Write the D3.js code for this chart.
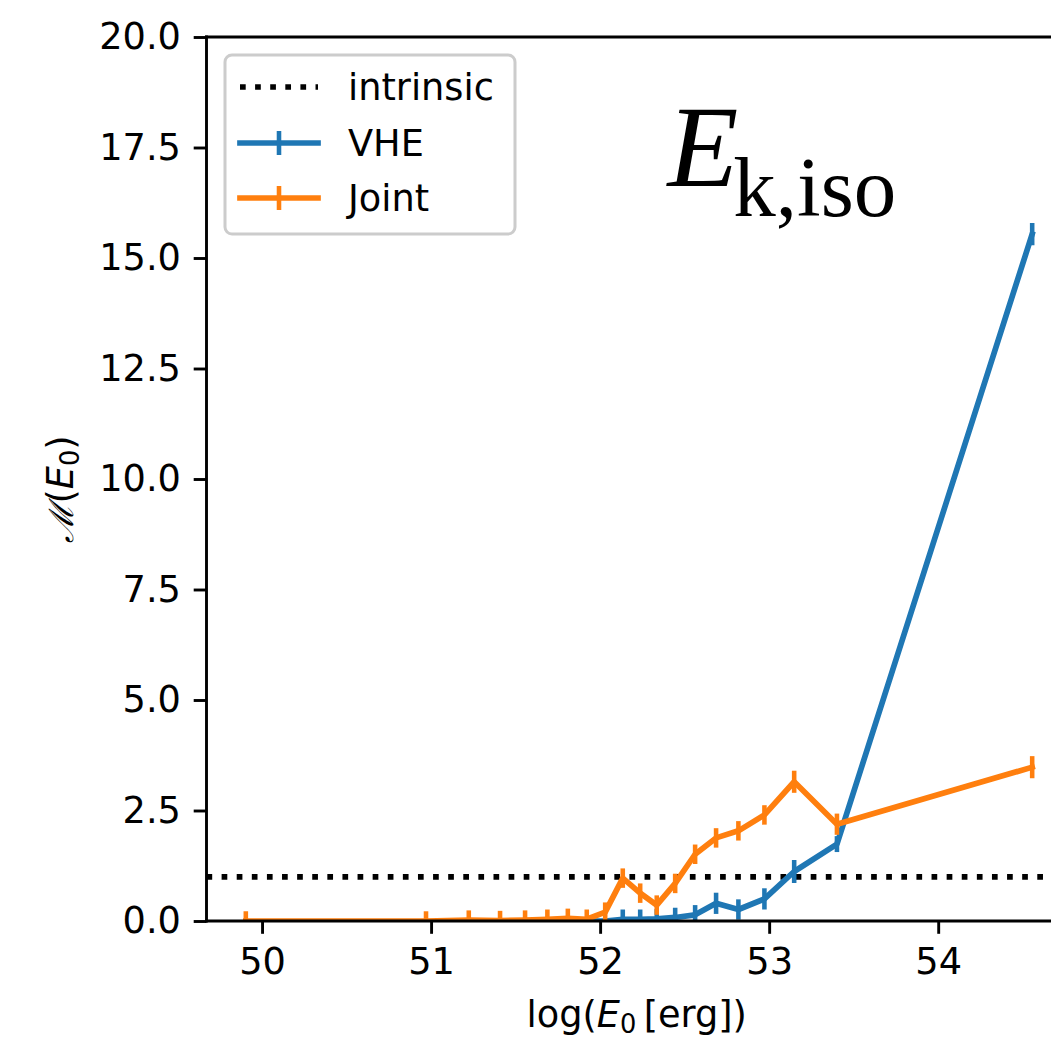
<!DOCTYPE html>
<html>
<head>
<meta charset="utf-8">
<script src="https://cdn.jsdelivr.net/npm/d3@7"></script>
<style>
  html, body { margin: 0; padding: 0; background: #fff; }
  svg { display: block; }
</style>
</head>
<body>
<script>
// log10 of the isotropic energy per bin, and the multiplicity M(E0) for each sample
const jointLogE = [49.904, 50.970, 51.223, 51.408, 51.556, 51.688, 51.809, 51.921, 52.030, 52.134,
                   52.237, 52.335, 52.444, 52.562, 52.686, 52.818, 52.972, 53.148, 53.401, 54.556];
const jointM    = [0.00, 0.00, 0.02, 0.01, 0.02, 0.04, 0.06, 0.04, 0.20, 0.97,
                   0.63, 0.36, 0.85, 1.51, 1.88, 2.04, 2.40, 3.15, 2.19, 3.48];
const jointErr  = [0.22, 0.22, 0.22, 0.22, 0.22, 0.22, 0.22, 0.22, 0.22, 0.22,
                   0.22, 0.22, 0.22, 0.22, 0.22, 0.22, 0.22, 0.25, 0.24, 0.25];

const vheLogE = [51.921, 52.030, 52.134, 52.237, 52.335, 52.444, 52.562, 52.686, 52.818, 52.972,
                 53.148, 53.401, 54.556];
const vheM    = [0.00, 0.00, 0.04, 0.04, 0.05, 0.08, 0.14, 0.40, 0.26, 0.50,
                 1.12, 1.74, 15.54];
const vheErr  = [0.00, 0.00, 0.22, 0.22, 0.22, 0.22, 0.22, 0.24, 0.23, 0.24,
                 0.26, 0.18, 0.25];

const intrinsicLevel = 1.0;

const xTicks = [50, 51, 52, 53, 54];
const yTicks = [0, 2.5, 5, 7.5, 10, 12.5, 15, 17.5, 20];

const seriesNames = ["intrinsic", "VHE", "Joint"];
const blue = "#1f77b4", orange = "#ff7f0e";

// ---- layout ----
const W = 1051, H = 1042;
const plot = { left: 206.5, top: 37, right: 1071.5, bottom: 921 };
const fs = 36.7;           // tick / legend font size (px)
const lw = 5.7;            // data line width
const spineW = 2.9, tickLen = 12.8, tickPad = 12.8;

// x limits include a 5% margin around the data range
const xMin = d3.min(jointLogE), xMax = d3.max(jointLogE);
const pad = 0.05 * (xMax - xMin);
const x = d3.scaleLinear().domain([xMin - pad, xMax + pad]).range([plot.left, plot.right]);
const y = d3.scaleLinear().domain([0, 20]).range([plot.bottom, plot.top]);

const svg = d3.select("body").append("svg")
  .attr("width", W).attr("height", H)
  .attr("font-family", "DejaVu Sans, sans-serif");

svg.append("defs").append("clipPath").attr("id", "plotClip")
  .append("rect")
  .attr("x", plot.left).attr("y", plot.top)
  .attr("width", plot.right - plot.left).attr("height", plot.bottom - plot.top);

const g = svg.append("g").attr("clip-path", "url(#plotClip)");

// reference level of the intrinsic distribution
g.append("line")
  .attr("x1", plot.left).attr("x2", plot.right)
  .attr("y1", y(intrinsicLevel)).attr("y2", y(intrinsicLevel))
  .attr("stroke", "#000").attr("stroke-width", lw)
  .attr("stroke-dasharray", `${lw} ${1.65 * lw}`);

function drawSeries(xs, ms, errs, color) {
  const pts = xs.map((v, i) => ({ x: v, m: ms[i], e: errs[i] }));
  const line = d3.line().x(d => x(d.x)).y(d => y(d.m));
  g.append("path").datum(pts)
    .attr("d", line)
    .attr("fill", "none").attr("stroke", color)
    .attr("stroke-width", lw).attr("stroke-linejoin", "round").attr("stroke-linecap", "square");
  g.append("g").selectAll("line").data(pts.filter(d => d.e > 0)).join("line")
    .attr("x1", d => x(d.x)).attr("x2", d => x(d.x))
    .attr("y1", d => y(d.m - d.e)).attr("y2", d => y(d.m + d.e))
    .attr("stroke", color).attr("stroke-width", lw * 0.8);
}
drawSeries(vheLogE, vheM, vheErr, blue);
drawSeries(jointLogE, jointM, jointErr, orange);

// ---- axes ----
const xAxis = d3.axisBottom(x).tickValues(xTicks).tickFormat(d3.format("d"))
  .tickSizeInner(tickLen).tickSizeOuter(0).tickPadding(tickPad);
const yAxis = d3.axisLeft(y).tickValues(yTicks).tickFormat(d3.format(".1f"))
  .tickSizeInner(tickLen).tickSizeOuter(0).tickPadding(tickPad);

const gx = svg.append("g").attr("transform", `translate(0,${plot.bottom})`).call(xAxis);
const gy = svg.append("g").attr("transform", `translate(${plot.left},0)`).call(yAxis);
[gx, gy].forEach(a => {
  a.select(".domain").remove();
  a.selectAll(".tick line").attr("stroke", "#000").attr("stroke-width", spineW);
  a.selectAll(".tick text").attr("font-size", fs).attr("font-family", "DejaVu Sans").attr("fill", "#000");
});
gx.selectAll(".tick text").attr("dy", "0.76em");

// spines (left, bottom, top; the right one sits outside the canvas)
const spines = svg.append("g").attr("stroke", "#000").attr("stroke-width", spineW).attr("stroke-linecap", "square");
spines.append("line").attr("x1", plot.left).attr("x2", plot.left).attr("y1", plot.top).attr("y2", plot.bottom);
spines.append("line").attr("x1", plot.left).attr("x2", plot.right).attr("y1", plot.bottom).attr("y2", plot.bottom);
spines.append("line").attr("x1", plot.left).attr("x2", plot.right).attr("y1", plot.top).attr("y2", plot.top);
spines.append("line").attr("x1", plot.right).attr("x2", plot.right).attr("y1", plot.top).attr("y2", plot.bottom);

// axis labels
const xl = svg.append("text")
  .attr("x", (plot.left + 1067) / 2).attr("y", 1027)
  .attr("text-anchor", "middle").attr("font-size", fs);
xl.append("tspan").text("log(");
xl.append("tspan").attr("font-style", "italic").text("E");
xl.append("tspan").attr("font-size", fs * 0.7).attr("dy", 6).text("0");
xl.append("tspan").attr("dy", -6).text("\u2009[erg])");

const yl = svg.append("text")
  .attr("transform", `translate(73,${(plot.top + plot.bottom) / 2 + 10}) rotate(-90)`)
  .attr("text-anchor", "middle").attr("font-size", fs);
yl.append("tspan").attr("font-family", "DejaVu Serif").attr("font-style", "italic")
  .attr("font-size", fs * 0.92).text("\u2133");
yl.append("tspan").text("(");
yl.append("tspan").attr("font-style", "italic").text("E");
yl.append("tspan").attr("font-size", fs * 0.7).attr("dy", 6).text("0");
yl.append("tspan").attr("dy", -6).text(")");

// panel title in the upper right of the axes
const fx = (plot.right - plot.left), fy = (plot.bottom - plot.top);
const title = svg.append("text")
  .attr("x", plot.left + 0.533 * fx).attr("y", plot.top + 0.169 * fy)
  .attr("font-family", "Liberation Serif, Times New Roman, serif");
title.append("tspan").attr("font-style", "italic").attr("font-size", 116).text("E");
title.append("tspan").attr("x", plot.left + 0.609 * fx).attr("dy", 30).attr("font-size", 85).text("k,iso");

// ---- legend ----
const lg = svg.append("g");
lg.append("rect")
  .attr("x", 225).attr("y", 55).attr("width", 290).attr("height", 179)
  .attr("rx", 7).attr("fill", "#fff").attr("fill-opacity", 0.8)
  .attr("stroke", "#cccccc").attr("stroke-width", 3);
const rowY = [87, 143, 198];
const hx0 = 240, hx1 = 318;
seriesNames.forEach((name, i) => {
  const yy = rowY[i];
  if (i === 0) {
    lg.append("line").attr("x1", hx0).attr("x2", hx1).attr("y1", yy).attr("y2", yy)
      .attr("stroke", "#000").attr("stroke-width", lw)
      .attr("stroke-dasharray", `${lw} ${1.65 * lw}`);
  } else {
    const c = i === 1 ? blue : orange;
    lg.append("line").attr("x1", hx0).attr("x2", hx1).attr("y1", yy).attr("y2", yy)
      .attr("stroke", c).attr("stroke-width", lw).attr("stroke-linecap", "square");
    lg.append("line").attr("x1", (hx0 + hx1) / 2).attr("x2", (hx0 + hx1) / 2)
      .attr("y1", yy - 12).attr("y2", yy + 12)
      .attr("stroke", c).attr("stroke-width", lw * 0.8);
  }
  lg.append("text").attr("x", 348).attr("y", yy).attr("dy", "0.36em")
    .attr("font-size", fs).text(name);
});
</script>
</body>
</html>
